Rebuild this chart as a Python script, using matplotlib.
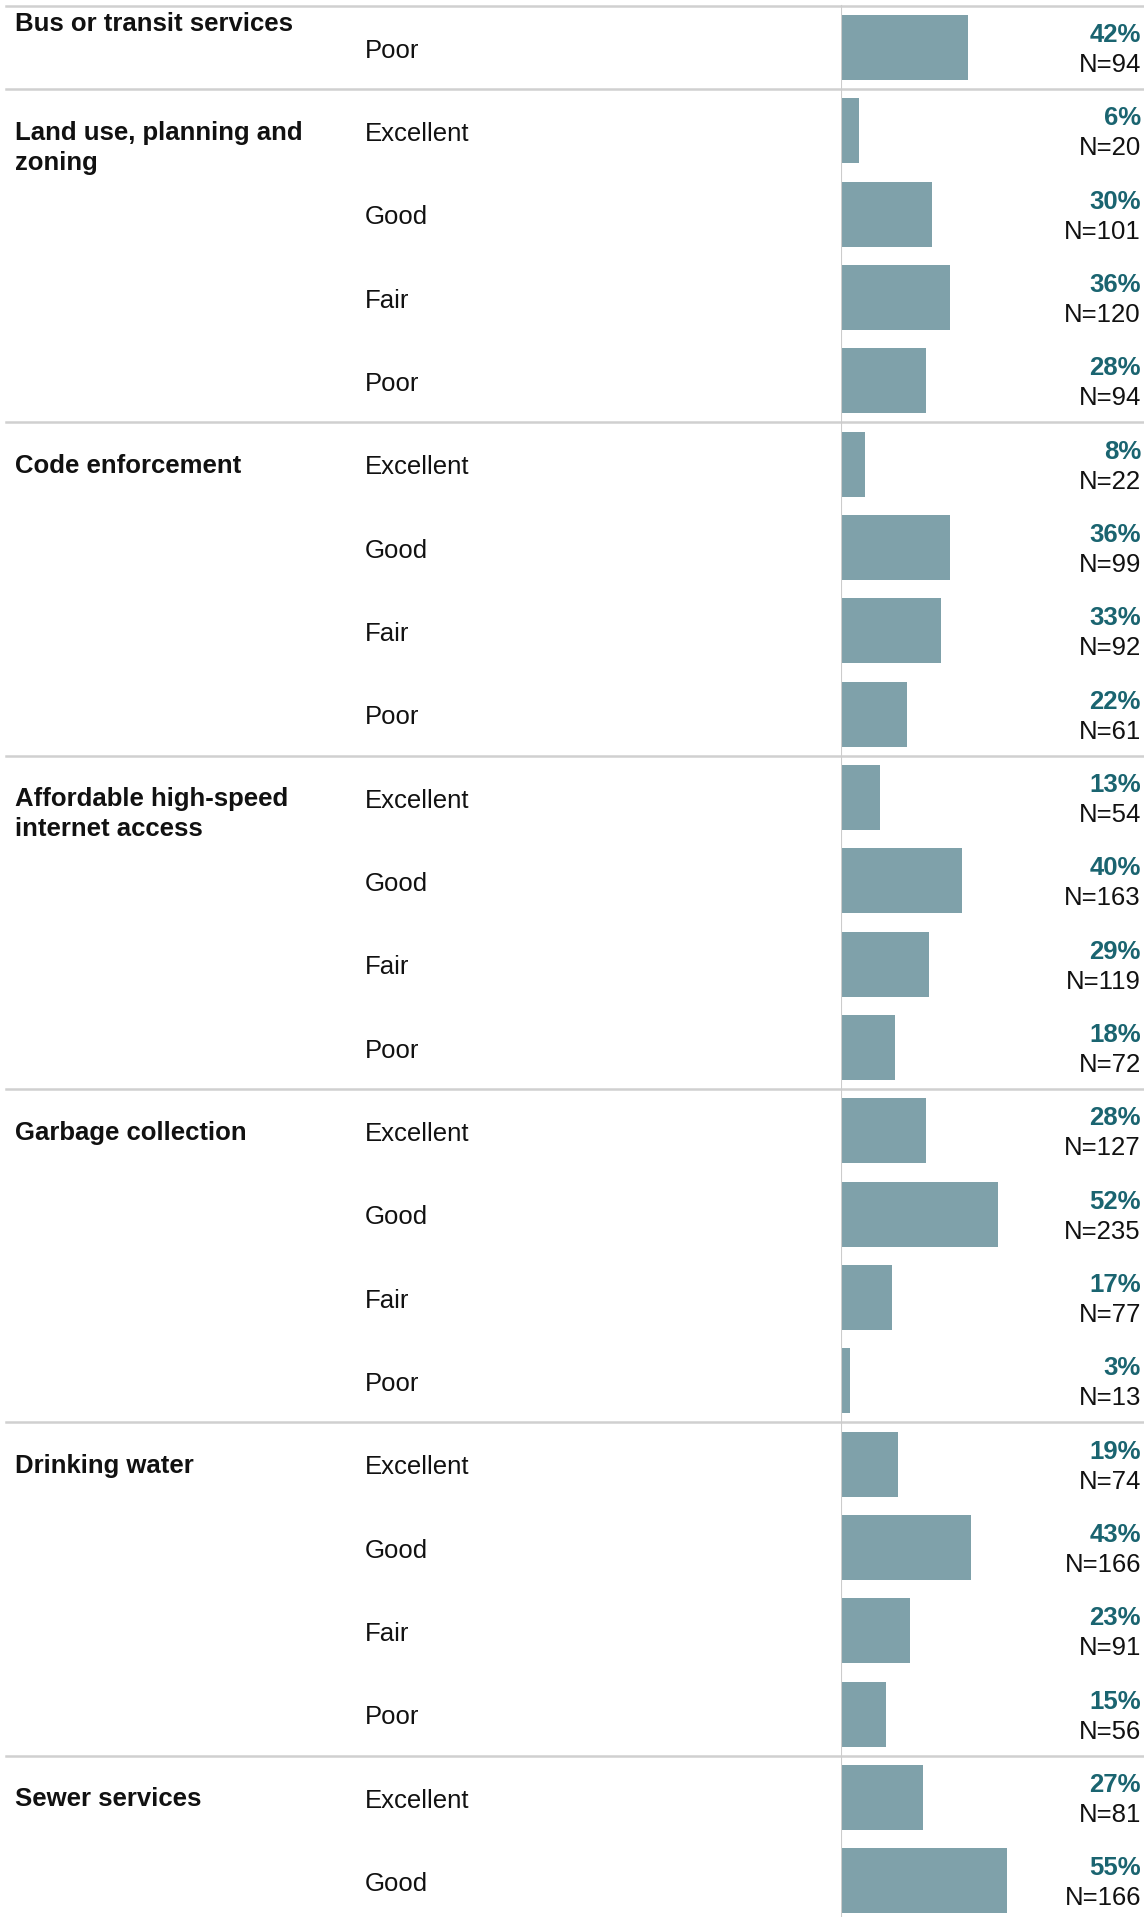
import matplotlib.pyplot as plt

plt.rcParams['font.family'] = ['Liberation Sans', 'DejaVu Sans']

# service groups, in order, with the rows they cover
groups = ["Bus or transit services", "Land use, planning and\nzoning", "Code enforcement",
          "Affordable high-speed\ninternet access", "Garbage collection", "Drinking water",
          "Sewer services"]
group_sizes = [1, 4, 4, 4, 4, 4, 2]

ratings = ["Poor",
           "Excellent", "Good", "Fair", "Poor",
           "Excellent", "Good", "Fair", "Poor",
           "Excellent", "Good", "Fair", "Poor",
           "Excellent", "Good", "Fair", "Poor",
           "Excellent", "Good", "Fair", "Poor",
           "Excellent", "Good"]
pcts = [42,
        6, 30, 36, 28,
        8, 36, 33, 22,
        13, 40, 29, 18,
        28, 52, 17, 3,
        19, 43, 23, 15,
        27, 55]
counts = [94,
          20, 101, 120, 94,
          22, 99, 92, 61,
          54, 163, 119, 72,
          127, 235, 77, 13,
          74, 166, 91, 56,
          81, 166]

W, H = 1144, 1917
fig = plt.figure(figsize=(W / 100, H / 100), dpi=100)

n = len(pcts)
pitch = 83.33
top_px = 47.5
ylim = ((H - top_px) / pitch, -top_px / pitch)

# background axes: x in pixels, y in rows
bg = fig.add_axes([0, 0, 1, 1])
bg.set_xlim(0, W)
bg.set_ylim(*ylim)
bg.axis('off')

x0 = 841
bx = fig.add_axes([x0 / W, 0, (W - x0) / W, 1])
bx.set_xlim(0, (W - x0) / 3.02)
bx.set_ylim(*ylim)
bx.axis('off')

rows = list(range(n))
bx.barh(rows, pcts, height=0.78, color='#7fa1aa')
bx.plot([0, 0], [-0.5, ylim[0]], color='#cccccc', lw=1.5, zorder=3)

fs = 18.5
grey = '#d0d0d0'
start = 0
for g, size in zip(groups, group_sizes):
    bg.plot([6, W], [start - 0.5, start - 0.5], color=grey, lw=1.8)
    # first group is cut off at the top, its label sits above the row
    ty = -0.43 if start == 0 else start - 0.12
    bg.text(15, ty, g, fontsize=fs, fontweight='bold', va='top', ha='left',
            linespacing=1.3, color='#111111')
    start += size

for i, (r, p, c) in enumerate(zip(ratings, pcts, counts)):
    bg.text(365, i + 0.04, r, fontsize=fs, va='center', ha='left', color='#111111')
    bg.text(1141, i - 0.15, f"{p}%", fontsize=fs, fontweight='bold', va='center',
            ha='right', color='#1a6470')
    bg.text(1141, i + 0.21, f"N={c}", fontsize=fs, va='center', ha='right',
            color='#111111')

fig.savefig('out.png', dpi=100, facecolor='white')
